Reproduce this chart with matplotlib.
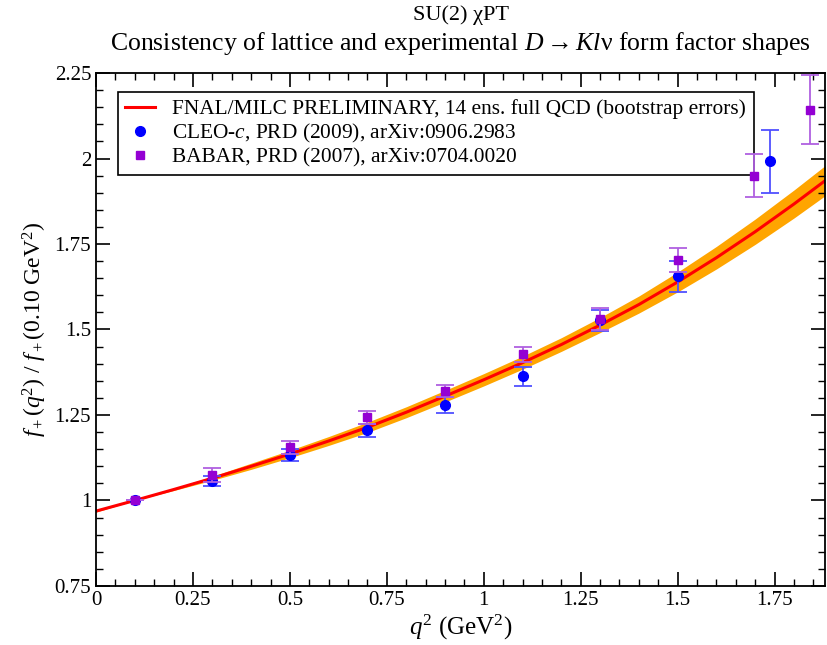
import numpy as np
import matplotlib
matplotlib.use('Agg')
import matplotlib.pyplot as plt
from matplotlib.lines import Line2D

plt.rcParams['font.family'] = ['Liberation Serif', 'DejaVu Serif']
plt.rcParams['mathtext.fontset'] = 'custom'
plt.rcParams['mathtext.rm'] = 'Liberation Serif'
plt.rcParams['mathtext.it'] = 'Liberation Serif:italic'
plt.rcParams['mathtext.bf'] = 'Liberation Serif:bold'

# lattice fit curve and its bootstrap error half-width
q2_fit = [0.0, 0.1, 0.2, 0.3, 0.4, 0.5, 0.6, 0.7, 0.8, 0.9, 1.0,
          1.1, 1.2, 1.3, 1.4, 1.5, 1.6, 1.7, 1.8, 1.88]
f_fit = [0.969, 1.000, 1.032, 1.065, 1.100, 1.136, 1.174, 1.214, 1.258, 1.305, 1.353,
         1.403, 1.456, 1.513, 1.573, 1.639, 1.710, 1.786, 1.867, 1.935]
f_err = [0.003, 0.000, 0.003, 0.006, 0.009, 0.011, 0.013, 0.015, 0.016, 0.017, 0.018,
         0.019, 0.020, 0.022, 0.025, 0.029, 0.033, 0.037, 0.041, 0.044]

# CLEO-c
q2_cleo = [0.1, 0.3, 0.5, 0.7, 0.9, 1.1, 1.3, 1.5, 1.738]
f_cleo = [1.000, 1.058, 1.133, 1.205, 1.280, 1.363, 1.527, 1.656, 1.992]
e_cleo = [0.0, 0.015, 0.018, 0.020, 0.024, 0.027, 0.030, 0.045, 0.092]

# BABAR
q2_babar = [0.1, 0.3, 0.5, 0.7, 0.9, 1.1, 1.3, 1.5, 1.697, 1.84]
f_babar = [1.000, 1.075, 1.155, 1.243, 1.320, 1.427, 1.531, 1.702, 1.950, 2.143]
e_babar = [0.0, 0.020, 0.020, 0.020, 0.018, 0.022, 0.032, 0.035, 0.064, 0.102]

fig = plt.figure(figsize=(8.27, 6.45), dpi=100)
ax = fig.add_axes([0.1161, 0.0915, 0.8815, 0.7953])

lo = np.array(f_fit) - np.array(f_err)
hi = np.array(f_fit) + np.array(f_err)
ax.fill_between(q2_fit, lo, hi, color='#ffa500', lw=0, zorder=1)
ax.plot(q2_fit, f_fit, color='red', lw=2.2, zorder=2)

ax.errorbar(q2_cleo, f_cleo, yerr=e_cleo, fmt='o', color='#0000ff', ms=7,
            ecolor='#5050ff', elinewidth=1.3, capsize=6.5, capthick=1.3, zorder=3)
ax.errorbar(q2_babar, f_babar, yerr=e_babar, fmt='s', color='#9400d3', ms=6,
            ecolor='#b060e0', elinewidth=1.3, capsize=6.5, capthick=1.3, zorder=4)

ax.set_xlim(0, 1.88)
ax.set_ylim(0.75, 2.25)
ax.set_xticks([0, 0.25, 0.5, 0.75, 1, 1.25, 1.5, 1.75])
ax.set_xticklabels(['0', '0.25', '0.5', '0.75', '1', '1.25', '1.5', '1.75'])
ax.set_yticks([0.75, 1, 1.25, 1.5, 1.75, 2, 2.25])
ax.set_yticklabels(['0.75', '1', '1.25', '1.5', '1.75', '2', '2.25'])
ax.set_xticks(np.arange(0, 1.881, 0.05), minor=True)
ax.set_yticks(np.arange(0.75, 2.251, 0.05), minor=True)
ax.tick_params(which='both', direction='in', top=True, right=True, labelsize=15)
ax.tick_params(which='major', length=10, width=1.2)
ax.tick_params(which='minor', length=5, width=1)
for s in ax.spines.values():
    s.set_linewidth(1.3)

ax.set_xlabel('$q^2$ (GeV$^2$)', fontsize=18, labelpad=2)
ax.set_ylabel('$f_+(q^2)\\ /\\ f_+(0.10\\ \\mathrm{GeV}^2)$', fontsize=17, labelpad=4)

fig.text(0.557, 0.977, 'SU(2) \u03c7PT', ha='center', va='center', fontsize=16)
fig.text(0.557, 0.933, 'Consistency of lattice and experimental $D \\rightarrow Kl$\u03bd form factor shapes',
         ha='center', va='center', fontsize=18.5)

handles = [
    Line2D([], [], color='red', lw=2.2),
    Line2D([], [], color='#0000ff', marker='o', ms=7, ls='none'),
    Line2D([], [], color='#9400d3', marker='s', ms=6, ls='none'),
]
labels = [
    'FNAL/MILC PRELIMINARY, 14 ens. full QCD (bootstrap errors)',
    'CLEO-$c$, PRD (2009), arXiv:0906.2983',
    'BABAR, PRD (2007), arXiv:0704.0020',
]
leg = ax.legend(handles, labels, loc='upper left', bbox_to_anchor=(0.030, 0.963), borderaxespad=0,
                fontsize=15.4, fancybox=False, edgecolor='black', framealpha=1,
                handlelength=1.4, handletextpad=0.8, labelspacing=0.12, borderpad=0.35)
leg.get_frame().set_linewidth(1.2)
# error bars near the legend corner stay visible on top of it
leg.set_zorder(2.5)

fig.savefig('out.png', dpi=100)
